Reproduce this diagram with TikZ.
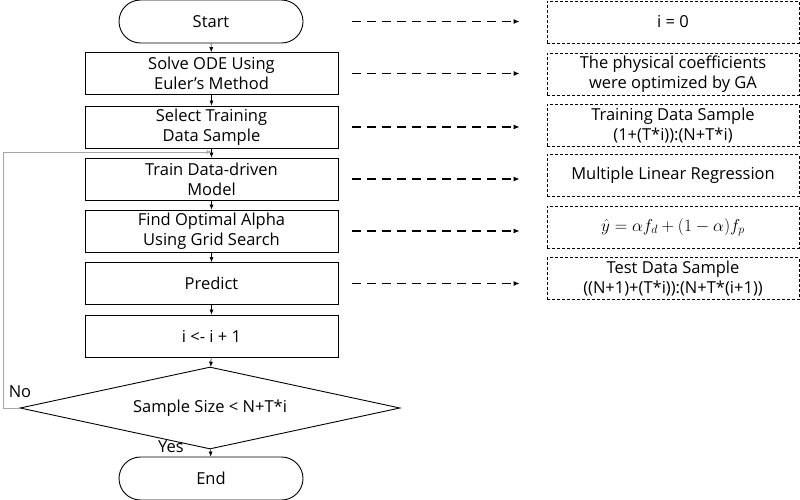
\documentclass[tikz,border=0pt]{standalone}
\usepackage{amsmath,amssymb}
\usepackage{fontspec}
\setmainfont{Open Sans}
\usetikzlibrary{arrows.meta,shapes.misc,shapes.geometric}

\tikzset{
  txt/.style={font=\fontsize{16.5}{20}\selectfont},
  stepbox/.style={draw, line width=0.9pt, minimum width=253pt, minimum height=42pt, inner sep=0pt, align=center, txt},
  termbox/.style={draw, line width=0.9pt, rounded rectangle, minimum width=184pt, minimum height=43pt, inner sep=0pt, txt},
  notebox/.style={draw, densely dashed, line width=0.7pt, minimum width=252pt, minimum height=42pt, inner sep=0pt, align=center, txt},
  flow/.style={line width=0.5pt, -{Latex[length=5pt,width=4pt]}},
  dasharrow/.style={line width=1.6pt, dash pattern=on 9pt off 6pt, -{Latex[length=6pt,width=5pt]}},
}

\begin{document}
\begin{tikzpicture}[x=1pt,y=-1pt]
\useasboundingbox (0,0) rectangle (800,500);
% left column
\node[termbox] (start) at (211,21.5) {Start};
\node[stepbox] (ode) at (211.5,73.5) {Solve ODE Using\\Euler's Method};
\node[stepbox] (sel) at (211.5,127) {Select Training\\Data Sample};
\node[stepbox] (train) at (211.5,179) {Train Data-driven\\Model};
\node[stepbox] (alpha) at (211.5,231) {Find Optimal Alpha\\Using Grid Search};
\node[stepbox] (pred) at (211.5,283.5) {Predict};
\node[stepbox] (incr) at (211.5,336) {i <- i + 1};
\node[draw, diamond, shape aspect=4.63, line width=0.9pt, minimum width=380pt, minimum height=82pt, inner sep=0pt, txt] (cond) at (210,408) {Sample Size < N+T*i};
\node[termbox] (end) at (211,478.5) {End};

% right column
\node[notebox] (n0) at (673,22) {i = 0};
\node[notebox] (n1) at (673,74.5) {The physical coefficients\\were optimized by GA};
\node[notebox] (n2) at (673,125.5) {Training Data Sample\\(1+(T*i)):(N+T*i)};
\node[notebox] (n3) at (673,175.5) {Multiple Linear Regression};
\node[notebox] (n4) at (673,227) {$\hat{y} = \alpha f_d + (1-\alpha) f_p$};
\node[notebox] (n5) at (673,278.5) {Test Data Sample\\((N+1)+(T*i)):(N+T*(i+1))};

% main flow
\draw[flow] (start) -- (ode);
\draw[flow] (ode) -- (sel);
\draw[flow] (sel) -- (train);
\draw[flow] (train) -- (alpha);
\draw[flow] (alpha) -- (pred);
\draw[flow] (pred) -- (incr);
\draw[flow] (incr) -- (cond);
\draw[flow] (cond) -- (end);

% loop back
\coordinate (back) at (211.5,152);
\draw[flow, gray!70] (cond.west) -- (3,408) -- (3,152) -- (back);
\node[txt] (no) at (20,392) {No};
\node[txt] (yes) at (171,447) {Yes};

% notes
\draw[dasharrow] ([xshift=49pt]start.east) -- ([xshift=-27pt]start.east -| n0.west);
\draw[dasharrow] ([xshift=14pt]ode.east) -- ([xshift=-27pt]ode.east -| n1.west);
\draw[dasharrow] ([xshift=14pt]sel.east) -- ([xshift=-27pt]sel.east -| n2.west);
\draw[dasharrow] ([xshift=14pt]train.east) -- ([xshift=-27pt]train.east -| n3.west);
\draw[dasharrow] ([xshift=14pt]alpha.east) -- ([xshift=-27pt]alpha.east -| n4.west);
\draw[dasharrow] ([xshift=14pt]pred.east) -- ([xshift=-27pt]pred.east -| n5.west);
\end{tikzpicture}
\end{document}
